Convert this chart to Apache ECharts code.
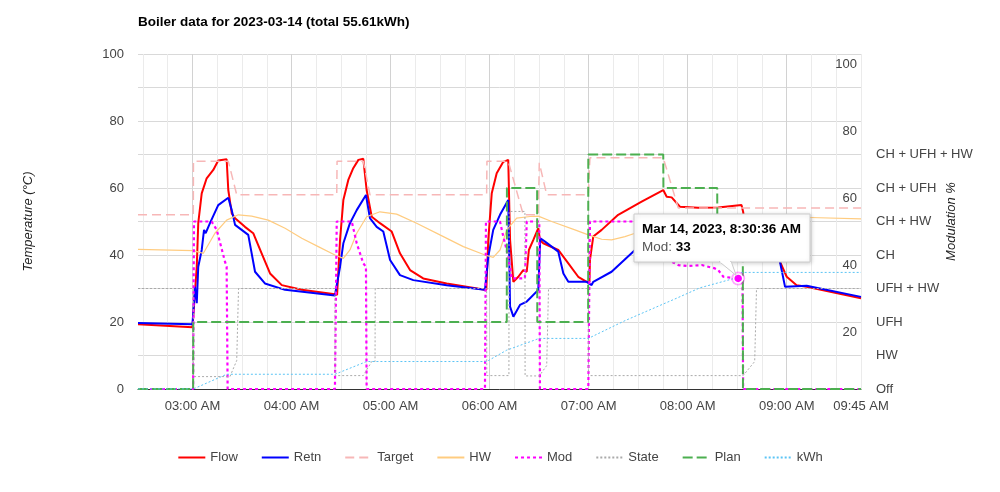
<!DOCTYPE html>
<html>
<head>
<meta charset="utf-8">
<script src="https://cdn.jsdelivr.net/npm/echarts@6/dist/echarts.min.js"></script>
<style>
html,body{margin:0;padding:0;background:#fff;}
#chart{width:1000px;height:492px;}
</style>
</head>
<body>
<div id="chart"></div>
<script>
// ---- data (x = minutes after midnight, 2023-03-14) ----
const chartTitle = 'Boiler data for 2023-03-14 (total 55.61kWh)';
const seriesNames = ['Flow', 'Retn', 'Target', 'HW', 'Mod', 'State', 'Plan', 'kWh'];
const stateLabels = ['Off', 'HW', 'UFH', 'UFH + HW', 'CH', 'CH + HW', 'CH + UFH', 'CH + UFH + HW'];
const xMin = 147, xMax = 585;
const hourTicks = [180, 240, 300, 360, 420, 480, 540];
const labelTicks = [180, 240, 300, 360, 420, 480, 540, 585];
const minorTicks = [150, 165, 195, 210, 225, 255, 270, 285, 315, 330, 345, 375, 390, 405, 435, 450, 465, 495, 510, 525, 555, 570, 585];

const flow = [[147,19.3],[180.0,18.4],[181.1,18.6],[182.6,36.5],[183.5,49.5],[185.6,58.4],[188.6,62.9],[192.6,65.4],[195.6,68.2],[200.7,68.6],[201.7,59.4],[203.8,52.4],[205.8,51],[211.8,48.4],[216.8,46.5],[221.9,40.5],[227.0,34.5],[234.1,31],[246.2,29.6],[266.3,28.3],[267.6,28.1],[269.4,44.5],[271.4,56.4],[274.4,62.4],[277.4,65.9],[280.5,68.4],[283.5,68.7],[285.5,59.4],[288.6,51.4],[293.6,49.5],[300.7,47],[305.7,40.5],[311.8,35.5],[319.8,33],[334.0,31.5],[356.2,29.7],[358.0,29.6],[359.2,44.5],[361.3,58.4],[364.3,64.4],[368.3,67.8],[371.3,68.4],[372.4,44.5],[374.4,32],[377.4,33.5],[380.4,35.5],[382.5,35],[383.8,41.5],[386.5,44.5],[389.5,48],[390.5,44.5],[392.5,43.5],[401.6,41.5],[407.7,37.5],[413.7,33.5],[418.8,32],[420.5,32],[420.8,38.5],[422.8,45.5],[427.9,47.5],[437.9,52],[452.1,55.9],[465.2,59.4],[467.3,57.4],[470.3,57.2],[475.3,54.4],[486.4,54.1],[498.5,54.2],[512.6,54.9],[513.6,52.9],[514.5,50],[531.0,49],[535.9,38],[540.0,33.5],[546.0,31],[552.1,30.5],[585,27.1]];
const retn = [[147,19.7],[180.0,19.3],[181.1,19.6],[181.5,30.5],[182.6,25.6],[183.5,36.5],[185.6,41.5],[187.0,47.5],[188.0,46.5],[190.6,49.5],[195.6,54.9],[201.7,57.1],[203.8,53.4],[205.8,49],[209.8,47.5],[213.8,46],[217.9,35],[223.9,31.5],[236.1,29.6],[266.3,27.9],[267.4,28.1],[269.4,36.5],[271.4,43.5],[275.4,49.5],[279.5,53.4],[285.1,57.9],[287.5,51],[291.6,48.4],[295.6,47],[299.7,38.5],[305.7,34],[313.8,32.5],[334.0,31],[357.2,29.6],[359.2,39.5],[362.2,47.5],[366.3,52],[371.3,56.4],[372.4,24.6],[374.4,21.6],[378.4,25.1],[382.5,26.1],[384.5,27.1],[389.5,29.6],[390.7,45],[393.6,44],[401.6,41],[404.7,34.5],[407.7,32],[418.8,32],[421.8,31],[422.8,32],[433.9,35],[448.1,41.5],[462.0,43.5],[480.2,45],[509.7,45.5],[529.9,45],[533.5,44],[535.9,38],[539.0,30.5],[552.1,30.8],[585,27.5]];
const target = [[147,52],[180.5,52],[180.6,68],[201.7,68],[206.8,58],[267.4,58],[267.6,68],[283.5,68],[287.5,58],[358.2,58],[358.4,68],[371.3,68],[380.4,52],[389.5,52],[390.1,67.5],[394.6,58],[419.8,58],[420.8,69],[465.2,69],[474.3,54],[585,54]];
const hw = [[147,41.7],[180.5,41.3],[186.6,40.5],[193.6,46.5],[200.7,50.4],[207.8,52],[215.9,51.6],[225.9,50.4],[236.1,48],[246.2,45],[256.2,42.5],[266.3,40],[271.4,39],[275.4,41.5],[279.5,46.5],[285.5,51.4],[293.6,52.9],[303.7,52.2],[315.8,49.5],[329.9,46],[344.1,42.5],[357.2,40],[362.2,39.3],[366.3,41.5],[370.4,47.5],[376.4,51],[384.5,51.5],[389.5,51.6],[397.6,50],[411.7,47.5],[419.8,46],[427.9,44.7],[433.9,44.5],[442.0,45.5],[448.1,46.5],[470,49.5],[490,51],[510,51.5],[554.1,51.2],[585,50.8]];
const mod = [[147,0],[180.4,0],[180.9,50],[191.6,50],[194.7,47.5],[199.7,38],[200.7,36.5],[201.3,0],[266.3,0],[267.4,50],[276.5,50],[279.5,43.5],[283.5,37.5],[285.1,36.5],[285.5,0],[357.2,0],[357.8,50],[366.3,50],[368.3,45.5],[371.3,39.5],[373.4,33],[381.4,33],[382.5,50],[390.1,50],[390.5,0],[419.8,0],[420.8,50],[462,50],[467,45],[470.3,38],[474.3,37],[480.2,36.7],[488.5,37],[496.5,36],[498.5,35.5],[501.6,33.5],[510.6,33],[513.2,33],[513.6,0],[585,0]];
const state = [[147,30],[180.5,30],[180.6,3.7],[202.7,3.7],[206.8,8.5],[207.8,8.5],[207.9,30],[266.3,30],[266.4,4],[283.5,4],[288.6,8.2],[290.6,8.2],[290.7,30],[358.2,30],[358.3,4],[371.7,4],[371.8,53],[381.4,53],[381.5,3.9],[390.1,3.9],[394.6,7],[395.6,7],[395.7,30],[419.8,30],[419.9,4],[513.6,4],[520.6,8.2],[521.6,8.2],[521.7,30],[585,30]];
const plan = [[147,0],[180.4,0],[180.5,20],[370.4,20],[370.5,60],[388.8,60],[388.9,20],[419.7,20],[419.8,70],[465.2,70],[465.3,60],[497.9,60],[498.0,40],[513.4,40],[513.5,0],[585,0]];
const kwh = [[147,0],[180.5,0],[200.7,4.4],[266.3,4.4],[285.5,8.2],[358.2,8.2],[370.4,11.6],[384.5,14.1],[390,15.1],[419.8,15.1],[442,20.4],[473.3,27.1],[487.4,30.2],[509.7,33.2],[512.6,34.8],[585,34.8]];
const tipPoint = [510.6, 33];

// ---- helpers ----
function fmtTime(m, withSec) {
  const totalSec = Math.round(m * 60);
  let h = Math.floor(totalSec / 3600);
  const mi = Math.floor((totalSec % 3600) / 60);
  const s = totalSec % 60;
  const ap = h >= 12 ? 'PM' : 'AM';
  let h12 = h % 12; if (h12 === 0) h12 = 12;
  const p2 = n => (n < 10 ? '0' : '') + n;
  if (withSec) return h12 + ':' + p2(mi) + ':' + p2(s) + ' ' + ap;
  return p2(h12) + ':' + p2(mi) + ' ' + ap;
}

const FONT = 'Liberation Sans, Arial, sans-serif';
const chart = echarts.init(document.getElementById('chart'));

function line(name, data, color, width, type, extra) {
  return Object.assign({
    name: name, type: 'line', data: data, symbol: 'none', showSymbol: false,
    animation: false, silent: true, xAxisIndex: 0, yAxisIndex: 0,
    lineStyle: { color: color, width: width, type: type },
    itemStyle: { color: color }
  }, extra || {});
}

const modMarks = {
  markPoint: {
    silent: true, animation: false, label: { show: false },
    data: [
      { coord: tipPoint, symbol: 'circle', symbolSize: 14, itemStyle: { color: 'rgba(255,0,255,0.35)' } },
      { coord: tipPoint, symbol: 'circle', symbolSize: 9, itemStyle: { color: '#ff00ff', borderColor: '#ffffff', borderWidth: 1.5 } }
    ]
  }
};

chart.setOption({
  backgroundColor: '#ffffff',
  animation: false,
  textStyle: { fontFamily: FONT },
  title: {
    text: chartTitle, left: 133, top: 10,
    textStyle: { fontFamily: FONT, fontSize: 13.5, fontWeight: 'bold', color: '#000' }
  },
  legend: {
    top: 446, left: 'center', itemWidth: 27, itemHeight: 14, itemGap: 23,
    data: seriesNames,
    itemStyle: { opacity: 0 },
    textStyle: { fontFamily: FONT, fontSize: 13, color: '#444' }
  },
  grid: { left: 138, right: 139, top: 54, bottom: 103 },
  xAxis: [
    {
      type: 'value', min: xMin, max: xMax,
      axisLine: { show: true, onZero: false, lineStyle: { color: '#333', width: 1 } },
      axisTick: { show: false, customValues: hourTicks },
      axisLabel: {
        customValues: labelTicks, margin: 11, fontFamily: FONT, fontSize: 13, color: '#444',
        formatter: v => fmtTime(v, false)
      },
      splitLine: { show: true, lineStyle: { color: '#d2d2d2', width: 1 } },
      z: 3
    },
    {
      type: 'value', min: xMin, max: xMax, position: 'bottom',
      axisLine: { show: false }, axisLabel: { show: false },
      axisTick: { show: false, customValues: minorTicks },
      splitLine: { show: true, lineStyle: { color: '#ebebeb', width: 1 } }
    }
  ],
  yAxis: [
    {
      type: 'value', min: 0, max: 100, interval: 10, position: 'left',
      name: 'Temperature (°C)', nameLocation: 'middle', nameGap: 103, nameRotate: 90,
      nameTextStyle: { fontFamily: FONT, fontSize: 13, fontStyle: 'italic', color: '#222' },
      axisLine: { show: false }, axisTick: { show: false },
      axisLabel: { margin: 14, fontFamily: FONT, fontSize: 13, color: '#444',
        formatter: v => (v % 20 === 0 ? String(v) : '') },
      splitLine: { show: true, lineStyle: { color: '#d9d9d9', width: 1 } }
    },
    {
      type: 'value', min: 0, max: 100, interval: 10, position: 'right',
      name: 'Modulation %', nameLocation: 'middle', nameGap: 84, nameRotate: 90,
      nameTextStyle: { fontFamily: FONT, fontSize: 13, fontStyle: 'italic', color: '#222' },
      axisLine: { show: false }, axisTick: { show: false },
      axisLabel: { inside: true, margin: 4, verticalAlign: 'top', padding: [4, 0, 0, 0],
        fontFamily: FONT, fontSize: 13, color: '#444',
        formatter: v => (v > 0 && v % 20 === 0 ? String(v) : '') },
      splitLine: { show: false }
    },
    {
      type: 'value', min: 0, max: 100, interval: 10, position: 'right',
      axisLine: { show: false }, axisTick: { show: false },
      axisLabel: { margin: 15, fontFamily: FONT, fontSize: 13, color: '#444',
        formatter: v => { const i = Math.round(v / 10); return i < stateLabels.length ? stateLabels[i] : ''; } },
      splitLine: { show: false }
    }
  ],
  series: [
    line('Flow', flow, '#ff0000', 2, 'solid'),
    line('Retn', retn, '#0000ff', 2, 'solid'),
    line('Target', target, '#f7b7b7', 1.5, [9, 5]),
    line('HW', hw, '#ffcc80', 1.2, 'solid'),
    line('Mod', mod, '#ff00ff', 2.2, [3, 3], modMarks),
    line('State', state, '#aaaaaa', 1, [2, 2]),
    line('Plan', plan, '#4caf50', 2, [10, 4]),
    line('kWh', kwh, '#5bc4f5', 1, [2, 2])
  ]
});

// ---- tooltip callout anchored to the Mod point ----
const p = chart.convertToPixel({ xAxisIndex: 0, yAxisIndex: 0 }, tipPoint);
const bx = Math.round(p[0] - 104), by = Math.round(p[1] - 64);
chart.setOption({
  graphic: [
    { type: 'rect', z: 100, shape: { x: bx, y: by, width: 176, height: 48 },
      style: { fill: '#fff', stroke: '#cccccc', lineWidth: 1,
        shadowBlur: 4, shadowColor: 'rgba(0,0,0,0.18)', shadowOffsetX: 1, shadowOffsetY: 1 } },
    { type: 'polygon', z: 101,
      shape: { points: [[p[0] - 19, by + 47.5], [p[0] - 7, by + 47.5], [p[0] - 2, p[1] - 3]] },
      style: { fill: '#fff', stroke: '#cccccc', lineWidth: 1 } },
    { type: 'rect', z: 102, shape: { x: p[0] - 18, y: by + 46, width: 10, height: 2.5 }, style: { fill: '#fff' } },
    { type: 'text', z: 103, x: bx + 8, y: by + 15,
      style: { text: 'Mar 14, 2023, ' + fmtTime(tipPoint[0], true), fontFamily: FONT, fontSize: 13.5,
        fontWeight: 'bold', fill: '#000', verticalAlign: 'middle' } },
    { type: 'text', z: 103, x: bx + 8, y: by + 33,
      style: { text: '{a|Mod: }{b|' + tipPoint[1] + '}', verticalAlign: 'middle',
        rich: { a: { fontFamily: FONT, fontSize: 13.5, fill: '#555' },
                b: { fontFamily: FONT, fontSize: 13.5, fontWeight: 'bold', fill: '#000' } } } }
  ]
});
</script>
</body>
</html>
